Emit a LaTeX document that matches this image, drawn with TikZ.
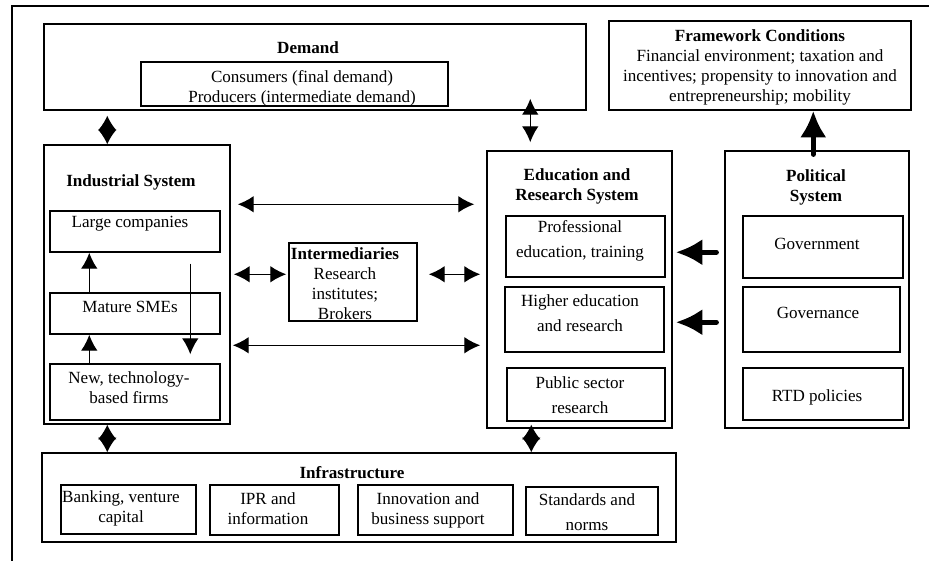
\documentclass[tikz,border=0pt]{standalone}
\usepackage{fontspec}
\setmainfont{Liberation Serif}
\usetikzlibrary{arrows.meta,calc,fit}

\begin{document}
\begin{tikzpicture}[x=0.75pt, y=-0.75pt,
    caixa/.style={draw, line width=1.1pt, inner sep=0pt},
    txt/.style={font=\fontsize{12.8}{15}\selectfont, align=center, inner sep=0pt},
    txtw/.style={txt, font=\fontsize{12.8}{18.75}\selectfont},
    seta/.style={line width=1pt, >={Latex[length=12pt,width=12.5pt]}},
    losango/.style={<->, line width=1pt, >={Latex[length=11pt,width=14pt]}},
    grossa/.style={->, line width=4pt, line cap=round, >={Latex[length=20pt,width=20pt]}}]
        \useasboundingbox (0,0) rectangle (929,561);

        % Moldura
        \draw[line width=1.1pt] (929,6) -- (12,6) -- (12,561);

        % Demanda
        \node[caixa, fit={(44,24) (586,110)}] (dem) {};
        \node[txt] (dem-t) at (308,48) {\textbf{Demand}};
        \node[caixa, fit={(141,62) (448,106)}] (cons) {};
        \node[txt] (cons-t) at (302,88) {Consumers (final demand)\\Producers (intermediate demand)};

        % Condicoes
        \node[caixa, fit={(609,21) (911,110)}] (fw) {};
        \node[txt] (fw-t) at (760,67) {\textbf{Framework Conditions}\\Financial environment; taxation and\\incentives; propensity to innovation and\\entrepreneurship; mobility};

        % Sistema industrial
        \node[caixa, fit={(44,145) (230,424)}] (ind) {};
        \node[txt] (ind-t) at (131,182) {\textbf{Industrial System}};
        \node[caixa, fit={(50,211) (220,252)}] (lc) {};
        \node[txt] (lc-t) at (130,224) {Large companies};
        \node[caixa, fit={(50,293) (220,334)}] (sme) {};
        \node[txt] (sme-t) at (130,307) {Mature SMEs};
        \node[caixa, fit={(50,364) (220,420)}] (nbf) {};
        \node[txt] (nbf-t) at (129,388) {New, technology-\\based firms};

        % Intermediarios
        \node[caixa, fit={(289,243) (417,321)}] (inter) {};
        \node[txt] (inter-t) at (345,284) {\textbf{Intermediaries}\\Research\\institutes;\\Brokers};

        % Educacao e pesquisa
        \node[caixa, fit={(487,151) (672,428)}] (edu) {};
        \node[txt] (edu-t) at (577,186) {\textbf{Education and}\\\textbf{Research System}};
        \node[caixa, fit={(506,216) (665,277)}] (prof) {};
        \node[txtw] (prof-t) at (580,241) {Professional\\education, training};
        \node[caixa, fit={(505,287) (664,352)}] (hed) {};
        \node[txtw] (hed-t) at (580,313) {Higher education\\and research};
        \node[caixa, fit={(507,368) (665,421)}] (psr) {};
        \node[txtw] (psr-t) at (580,395) {Public sector\\research};

        % Sistema politico
        \node[caixa, fit={(725,151) (909,428)}] (pol) {};
        \node[txt] (pol-t) at (816,187) {\textbf{Political}\\\textbf{System}};
        \node[caixa, fit={(743,216) (903,278)}] (gov) {};
        \node[txt] (gov-t) at (817,244) {Government};
        \node[caixa, fit={(743,287) (900,352)}] (gvn) {};
        \node[txt] (gvn-t) at (818,313) {Governance};
        \node[caixa, fit={(743,368) (903,420)}] (rtd) {};
        \node[txt] (rtd-t) at (817,397) {RTD policies};

        % Infraestrutura
        \node[caixa, fit={(42,453) (676,542)}] (infra) {};
        \node[txt] (infra-t) at (352,473) {\textbf{Infrastructure}};
        \node[caixa, fit={(61,485) (196,534)}] (bank) {};
        \node[txt] (bank-t) at (121,508) {Banking, venture\\capital};
        \node[caixa, fit={(210,485) (339,535)}] (ipr) {};
        \node[txt] (ipr-t) at (268,509) {IPR and\\information};
        \node[caixa, fit={(358,485) (513,535)}] (inno) {};
        \node[txt] (inno-t) at (428,510) {Innovation and\\business support};
        \node[caixa, fit={(526,487) (658,535)}] (std) {};
        \node[txtw] (std-t) at (587,512) {Standards and\\norms};

        % Setas
        \draw[losango] ($(dem.south west)+(64,5)$) -- ($(ind.north west)+(64,0)$);
        \draw[losango] ($(ind.south west)+(64,0)$) -- ($(infra.north west)+(66,0)$);
        \draw[losango] ($(edu.south west)+(45,-4)$) -- ($(infra.north west)+(490,0)$);
        \draw[seta, <->] ($(dem.south west)+(487,-12)$) -- ($(edu.north west)+(44,-8)$);
        \draw[seta, <->] ($(ind.north east)+(7,60)$) -- ($(edu.north west)+(-12,54)$);
        \draw[seta, <->] ($(ind.north east)+(2,201)$) -- ($(edu.north west)+(-6,195)$);
        \draw[seta, <->] ($(ind.north east)+(3,130)$) -- ($(inter.north west)+(-2,32)$);
        \draw[seta, <->] ($(inter.north east)+(11,32)$) -- ($(edu.north west)+(-6,124)$);
        \draw[seta, ->] ($(sme.north west)+(40,0)$) -- ($(lc.south west)+(40,0)$);
        \draw[seta, ->] ($(nbf.north west)+(40,0)$) -- ($(sme.south west)+(40,0)$);
        \draw[seta, ->] ($(lc.south west)+(141,11)$) -- ($(nbf.north west)+(141,-9)$);
        \draw[grossa] ($(pol.north west)+(-8,102)$) -- ($(edu.north east)+(3,102)$);
        \draw[grossa] ($(pol.north west)+(-8,172)$) -- ($(edu.north east)+(3,172)$);
        \draw[grossa] ($(pol.north west)+(89,4)$) -- ($(fw.south west)+(205,0)$);
    \end{tikzpicture}
\end{document}
